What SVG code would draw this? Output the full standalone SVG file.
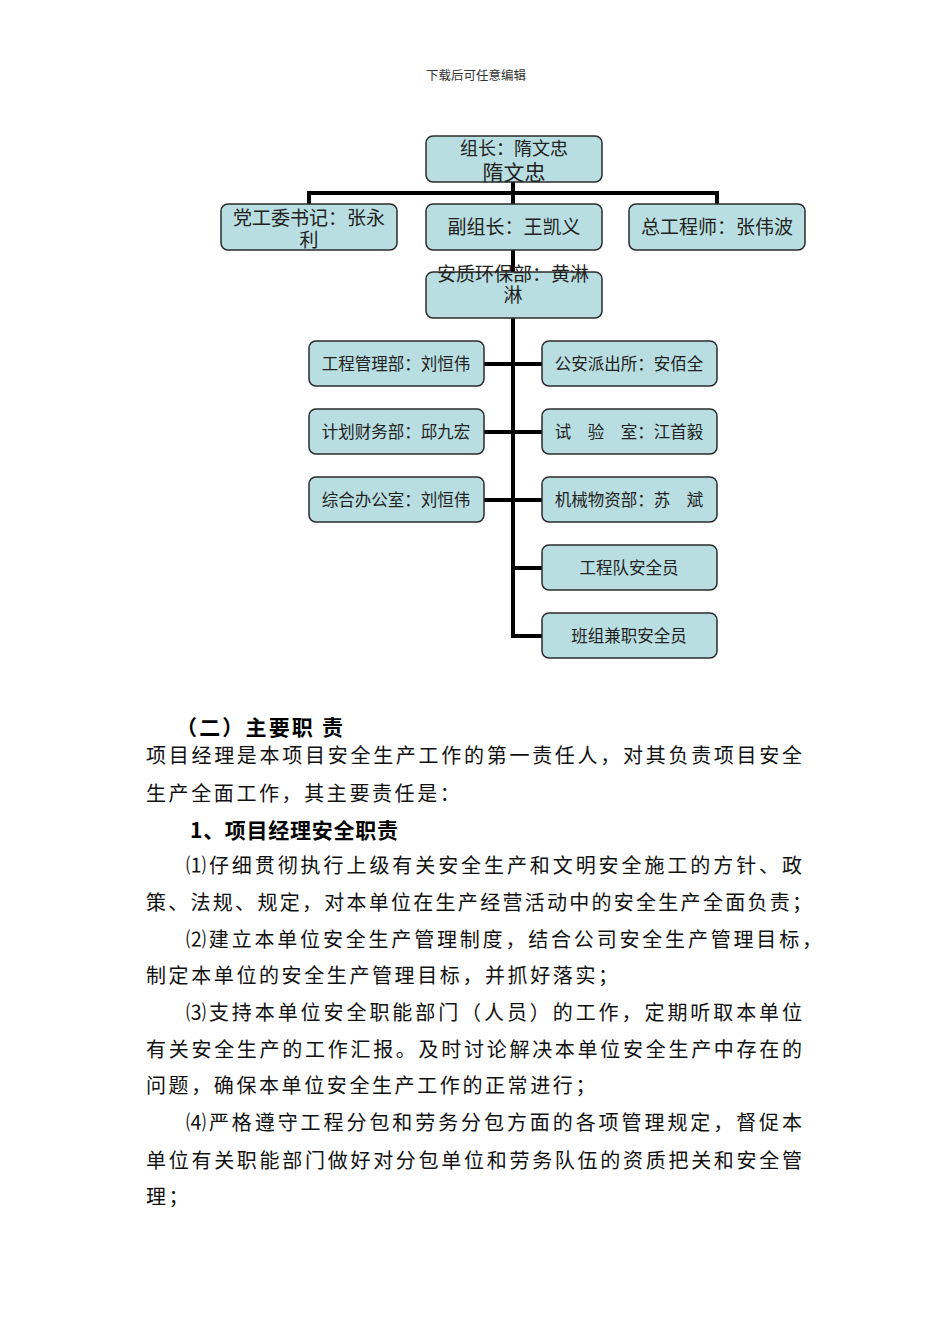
<svg xmlns="http://www.w3.org/2000/svg" width="950" height="1344" viewBox="0 0 950 1344">
<style>
.bg{fill:#ffffff}
.box{fill:#b8dee1;stroke:#2b2b2b;stroke-width:1.5}
.conn{fill:none;stroke:#000;stroke-width:4;stroke-linecap:butt;stroke-linejoin:miter}
.t{font-family:"Noto Sans CJK SC","Liberation Sans",sans-serif;fill:#222;text-anchor:middle}
.s18{font-size:18px}
.s19{font-size:19px}
.s21{font-size:21px}
.s16{font-size:16.5px}
.body{font-family:"Noto Sans CJK SC","Liberation Serif",serif;font-size:20px;fill:#111}
.ls{letter-spacing:2.6px}
.hd{font-family:"Noto Sans CJK SC","Liberation Sans",sans-serif;font-size:21px;font-weight:bold;fill:#000}
.top{font-family:"Noto Sans CJK SC","Liberation Sans",sans-serif;font-size:12.5px;fill:#333;text-anchor:middle}
</style>
<rect class="bg" x="0" y="0" width="950" height="1344"/>
<text class="top" x="476" y="80">下载后可任意编辑</text>

<g id="connectors">
<path class="conn" d="M513,182 V204"/>
<path class="conn" d="M309,205 V193 H717 V205"/>
<path class="conn" d="M513,250 V272"/>
<path class="conn" d="M513,318 V636 H542"/>
<path class="conn" d="M484,364 H542"/>
<path class="conn" d="M484,432 H542"/>
<path class="conn" d="M484,500 H542"/>
<path class="conn" d="M513,568 H542"/>
</g>

<g id="n-leader">
<rect class="box" x="426" y="136" width="176" height="46" rx="7"/>
<text class="t s18" x="514" y="155">组长：隋文忠<tspan class="s21" x="514" y="180">隋文忠</tspan></text>
</g>
<g id="n-party">
<rect class="box" x="221" y="204" width="176" height="46" rx="7"/>
<text class="t s19" x="309" y="225">党工委书记：张永<tspan x="309" y="247">利</tspan></text>
</g>
<g id="n-deputy">
<rect class="box" x="426" y="204" width="176" height="46" rx="7"/>
<text class="t s19" x="514" y="234">副组长：王凯义</text>
</g>
<g id="n-chief">
<rect class="box" x="629" y="204" width="176" height="46" rx="7"/>
<text class="t s19" x="717" y="234">总工程师：张伟波</text>
</g>
<g id="n-safety">
<rect class="box" x="426" y="272" width="176" height="46" rx="7"/>
<text class="t s19" x="513" y="281">安质环保部：黄淋<tspan x="513" y="302">淋</tspan></text>
</g>

<g id="n-eng">
<rect class="box" x="309" y="341" width="175" height="45" rx="7"/>
<text class="t s16" x="396" y="370">工程管理部：刘恒伟</text>
</g>
<g id="n-fin">
<rect class="box" x="309" y="409" width="175" height="45" rx="7"/>
<text class="t s16" x="396" y="438">计划财务部：邱九宏</text>
</g>
<g id="n-office">
<rect class="box" x="309" y="477" width="175" height="45" rx="7"/>
<text class="t s16" x="396" y="506">综合办公室：刘恒伟</text>
</g>
<g id="n-police">
<rect class="box" x="542" y="341" width="175" height="45" rx="7"/>
<text class="t s16" x="629" y="370">公安派出所：安佰全</text>
</g>
<g id="n-lab">
<rect class="box" x="542" y="409" width="175" height="45" rx="7"/>
<text class="t s16" x="629" y="438">试　验　室：江首毅</text>
</g>
<g id="n-mech">
<rect class="box" x="542" y="477" width="175" height="45" rx="7"/>
<text class="t s16" x="629" y="506">机械物资部：苏　斌</text>
</g>
<g id="n-team">
<rect class="box" x="542" y="545" width="175" height="45" rx="7"/>
<text class="t s16" x="629" y="574">工程队安全员</text>
</g>
<g id="n-group">
<rect class="box" x="542" y="613" width="175" height="45" rx="7"/>
<text class="t s16" x="629" y="642">班组兼职安全员</text>
</g>

<g id="text">
<text class="hd" x="176" y="735" textLength="167" lengthAdjust="spacing">（二）主要职 责</text>
<text class="body" x="146" y="763" textLength="656" lengthAdjust="spacing">项目经理是本项目安全生产工作的第一责任人，对其负责项目安全</text>
<text class="body ls" x="146" y="801">生产全面工作，其主要责任是：</text>
<text class="hd" x="190" y="838" textLength="208" lengthAdjust="spacing">1、项目经理安全职责</text>
<text class="body" x="186" y="873" textLength="616" lengthAdjust="spacing">⑴仔细贯彻执行上级有关安全生产和文明安全施工的方针、政</text>
<text class="body" x="146" y="910" textLength="666" lengthAdjust="spacing">策、法规、规定，对本单位在生产经营活动中的安全生产全面负责；</text>
<text class="body" x="186" y="947" textLength="636" lengthAdjust="spacing">⑵建立本单位安全生产管理制度，结合公司安全生产管理目标，</text>
<text class="body ls" x="146" y="983">制定本单位的安全生产管理目标，并抓好落实；</text>
<text class="body" x="186" y="1020" textLength="616" lengthAdjust="spacing">⑶支持本单位安全职能部门（人员）的工作，定期听取本单位</text>
<text class="body" x="146" y="1057" textLength="656" lengthAdjust="spacing">有关安全生产的工作汇报。及时讨论解决本单位安全生产中存在的</text>
<text class="body ls" x="146" y="1093">问题，确保本单位安全生产工作的正常进行；</text>
<text class="body" x="186" y="1130" textLength="616" lengthAdjust="spacing">⑷严格遵守工程分包和劳务分包方面的各项管理规定，督促本</text>
<text class="body" x="146" y="1168" textLength="656" lengthAdjust="spacing">单位有关职能部门做好对分包单位和劳务队伍的资质把关和安全管</text>
<text class="body ls" x="146" y="1204">理；</text>
</g>
</svg>
